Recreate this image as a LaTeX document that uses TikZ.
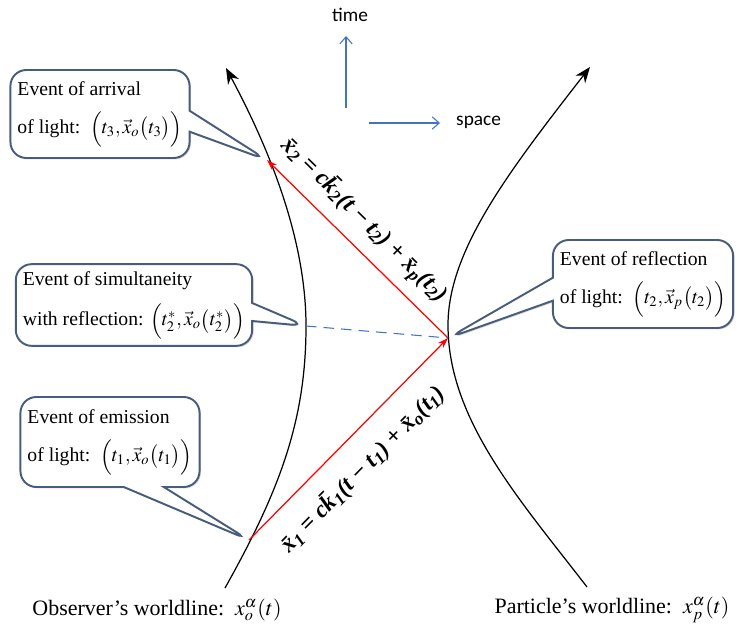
\documentclass[tikz,border=0pt]{standalone}
\usepackage{mathptmx}
\usepackage{fontspec}
\setmainfont{Liberation Serif}
\setsansfont{Carlito}
\usetikzlibrary{shapes.callouts,arrows.meta,shadows}

\definecolor{boxedge}{RGB}{72,92,124}
\definecolor{axisblue}{RGB}{68,114,196}

\newcommand{\bx}[1]{\=#1}
\newcommand{\sbs}[1]{\textsubscript{#1}}

\tikzset{
  eventbox/.style={rectangle callout, draw=boxedge, line width=1.1pt, fill=white,
    rounded corners=9pt, align=left, inner sep=4pt, font=\fontsize{11.2pt}{13pt}\selectfont,
    drop shadow={opacity=0.3, shadow xshift=0.8pt, shadow yshift=-0.8pt}},
  worldline/.style={line width=0.7pt, -{Stealth[length=9pt,width=7pt]}},
  lightray/.style={red, line width=0.7pt},
  raylabel/.style={text=black, font=\fontsize{13.5pt}{15pt}\selectfont\bfseries\itshape, sloped},
  axisarrow/.style={axisblue, line width=0.6pt, -{Straight Barb[length=4pt,width=7pt]}},
}

\begin{document}
\begin{tikzpicture}[x=0.02cm, y=-0.02cm]
    \useasboundingbox (0,0) rectangle (740,631);

    % events
    \coordinate (emit) at (249,540);
    \coordinate (refl) at (448,338);
    \coordinate (arr) at (267,160);
    \coordinate (simul) at (306,326);

    % worldlines
    \draw[worldline] (225,588) .. controls (280,490) and (306,420) .. (306,326)
      .. controls (306,240) and (270,150) .. (226,68);
    \draw[worldline] (587,587) .. controls (520,500) and (448,420) .. (448,325)
      .. controls (448,250) and (510,170) .. (590,67);

    % light rays
    \draw[lightray, -{Stealth[length=6pt,width=4pt]}] (emit) -- node[raylabel, pos=0.46, below=7pt]
      {\bx{x}\sbs{1} = c\bx{k}\sbs{1}(t − t\sbs{1}) + \bx{x}\sbs{o}(t\sbs{1})} (refl);
    \draw[lightray, {Stealth[length=6pt,width=4pt]}-] (arr) -- node[raylabel, pos=0.44, above=3pt]
      {\bx{x}\sbs{2} = c\bx{k}\sbs{2}(t − t\sbs{2}) + \bx{x}\sbs{p}(t\sbs{2})} (refl);
    \draw[axisblue, line width=0.6pt, dash pattern=on 6pt off 4pt] (simul) -- (refl);

    % callouts
    \node[eventbox, minimum width=3.48cm, minimum height=1.76cm, callout pointer width=0.42cm,
      callout absolute pointer={(arr)}] (arrbox) at (100,114)
      {Event of arrival\\[9pt] of light:\ \ $\Bigl(t_3,\vec{x}_o\bigl(t_3\bigr)\Bigr)$};
    \node[eventbox, minimum width=4.56cm, minimum height=1.52cm, callout pointer width=0.36cm,
      callout absolute pointer={(simul)}] (simbox) at (134,305)
      {Event of simultaneity\\[7pt] with reflection: $\Bigl(t_2^*,\vec{x}_o\bigl(t_2^*\bigr)\Bigr)$};
    \node[eventbox, minimum width=3.4cm, minimum height=1.8cm, callout pointer width=0.8cm,
      callout absolute pointer={(emit)}] (emitbox) at (110,442)
      {Event of emission\\[9pt] of light:\ \ $\Bigl(t_1,\vec{x}_o\bigl(t_1\bigr)\Bigr)$};
    \node[eventbox, minimum width=3.46cm, minimum height=1.76cm, callout pointer width=0.46cm,
      callout absolute pointer={(refl)}] (reflbox) at (643,284)
      {Event of reflection\\[9pt] of light:\ \ $\Bigl(t_2,\vec{x}_p\bigl(t_2\bigr)\Bigr)$};

    % axes
    \node[font=\sffamily\fontsize{11pt}{13pt}\selectfont] (timelbl) at (350,15) {time};
    \node[font=\sffamily\fontsize{11pt}{13pt}\selectfont, anchor=west] (spacelbl) at (450,122) {space};
    \coordinate (tfoot) at (346,108);
    \coordinate (ttip) at (346,36);
    \coordinate (sfoot) at (369,123);
    \coordinate (stip) at (440,123);
    \draw[axisarrow] (tfoot) -- (ttip);
    \draw[axisarrow] (sfoot) -- (stip);

    % worldline names
    \node[font=\fontsize{12.5pt}{15pt}\selectfont] (obslbl) at (157,610) {Observer's worldline:\ \ $x_o^\alpha(t)$};
    \node[font=\fontsize{12.5pt}{15pt}\selectfont] (partlbl) at (612,610) {Particle's worldline:\ \ $x_p^\alpha(t)$};
\end{tikzpicture}
\end{document}
